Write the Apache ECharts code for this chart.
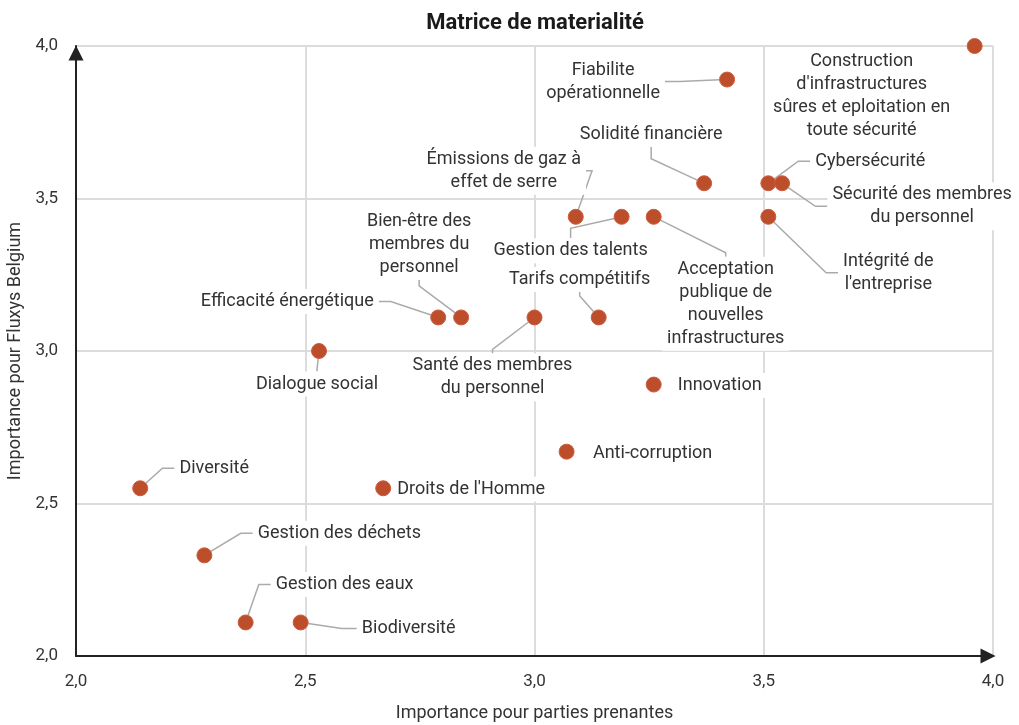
<!DOCTYPE html>
<html>
<head>
<meta charset="utf-8">
<title>Matrice de materialité</title>
<script src="https://cdn.jsdelivr.net/npm/echarts@6/dist/echarts.min.js"></script>
<style>
  html, body { margin: 0; padding: 0; background: #fff; }
  #chart { width: 1019px; height: 725px; }
</style>
</head>
<body>
<div id="chart"></div>
<script>
// sujets de la matrice
const topics = [
  'Construction\nd\'infrastructures\nsûres et eploitation en\ntoute sécurité',
  'Fiabilite\nopérationnelle',
  'Solidité financière',
  'Cybersécurité',
  'Sécurité des membres\ndu personnel',
  'Intégrité de\nl\'entreprise',
  'Émissions de gaz à\neffet de serre',
  'Gestion des talents',
  'Acceptation\npublique de\nnouvelles\ninfrastructures',
  'Bien-être des\nmembres du\npersonnel',
  'Efficacité énergétique',
  'Santé des membres\ndu personnel',
  'Tarifs compétitifs',
  'Dialogue social',
  'Innovation',
  'Anti-corruption',
  'Droits de l\'Homme',
  'Diversité',
  'Gestion des déchets',
  'Gestion des eaux',
  'Biodiversité'
]
// importance pour parties prenantes (x)
const stakeholderScore = [3.96, 3.42, 3.37, 3.51, 3.54, 3.51, 3.09, 3.19, 3.26, 2.84, 2.79,
  3.00, 3.14, 2.53, 3.26, 3.07, 2.67, 2.14, 2.28, 2.37, 2.49]
// importance pour Fluxys Belgium (y)
const fluxysScore = [4.00, 3.89, 3.55, 3.55, 3.55, 3.44, 3.44, 3.44, 3.44, 3.11, 3.11,
  3.11, 3.11, 3.00, 2.89, 2.67, 2.55, 2.55, 2.33, 2.11, 2.11]

// placement des étiquettes (décalage du centre en px) et traits de rappel
const labelOffsets = [[-113, 50], [-124, 2], [-53, -49], [102, -22], [140, 23], [120, 56],
  [-72, -46], [-51, 34], [72, 87], [-42, -73], [-151, -16], [-42, 60], [-19, -38], [-2, 33],
  [66, 1], [86, 2], [88, 1], [74, -20], [135, -22], [99, -38], [108, 6]]
const leaderLen = [-1, 15, 12, 12, 12, 12, 6, 10, 4, 6, 12, 4, 4, 2, -1, -1, -1, 12, 12, 12, 15]

const FONT = 'Roboto'
const fmt = v => v.toFixed(1).replace('.', ',')

const chart = echarts.init(document.getElementById('chart'))

chart.setOption({
  animation: false,
  title: {
    text: 'Matrice de materialité',
    left: 530,
    top: 7,
    textAlign: 'center',
    textStyle: { fontFamily: FONT, fontSize: 22, fontWeight: 'bold', color: '#1a1a1a' }
  },
  grid: { left: 76, right: 26, top: 46, bottom: 69, containLabel: false, outerBoundsMode: 'none' },
  xAxis: {
    type: 'value',
    min: 2, max: 4, interval: 0.5,
    name: 'Importance pour parties prenantes',
    nameLocation: 'middle',
    nameGap: 48,
    nameTextStyle: { fontFamily: FONT, fontSize: 18, color: '#333' },
    axisLine: {
      lineStyle: { color: '#222', width: 2 },
      symbol: ['none', 'triangle'],
      symbolSize: [15, 15],
      symbolOffset: [0, -5]
    },
    axisTick: { show: false },
    axisLabel: { formatter: fmt, margin: 17, fontFamily: FONT, fontSize: 17, color: '#333' },
    splitLine: { lineStyle: { color: '#dcdcdc', width: 2 } }
  },
  yAxis: {
    type: 'value',
    min: 2, max: 4, interval: 0.5,
    name: 'Importance pour Fluxys Belgium',
    nameLocation: 'middle',
    nameGap: 48,
    nameTextStyle: { fontFamily: FONT, fontSize: 18, color: '#333' },
    axisLine: {
      lineStyle: { color: '#222', width: 2 },
      symbol: ['none', 'triangle'],
      symbolSize: [15, 15],
      symbolOffset: [0, -7]
    },
    axisTick: { show: false },
    axisLabel: { formatter: fmt, margin: 18, fontFamily: FONT, fontSize: 17, color: '#333' },
    splitLine: { lineStyle: { color: '#dcdcdc', width: 2 } }
  },
  series: [{
    type: 'scatter',
    symbolSize: 15,
    itemStyle: { color: '#bd4e2b', borderColor: '#cf5a3c', borderWidth: 1, opacity: 1 },
    data: topics.map((t, i) => ({
      value: [stakeholderScore[i], fluxysScore[i]],
      name: t,
      labelLine: leaderLen[i] < 0 ? { show: false } : { show: true, length2: leaderLen[i] }
    })),
    label: {
      show: true,
      position: 'inside',
      formatter: p => p.name,
      fontFamily: FONT,
      fontSize: 18,
      lineHeight: 23,
      color: '#333',
      backgroundColor: '#fff',
      padding: [1, 5]
    },
    labelLine: {
      show: true,
      length2: 12,
      lineStyle: { color: '#aaa', width: 1.5 }
    },
    labelLayout: p => {
      const o = labelOffsets[p.dataIndex]
      return {
        x: p.rect.x + p.rect.width / 2 + o[0],
        y: p.rect.y + p.rect.height / 2 + o[1],
        align: 'center',
        verticalAlign: 'middle'
      }
    }
  }]
})
</script>
</body>
</html>
